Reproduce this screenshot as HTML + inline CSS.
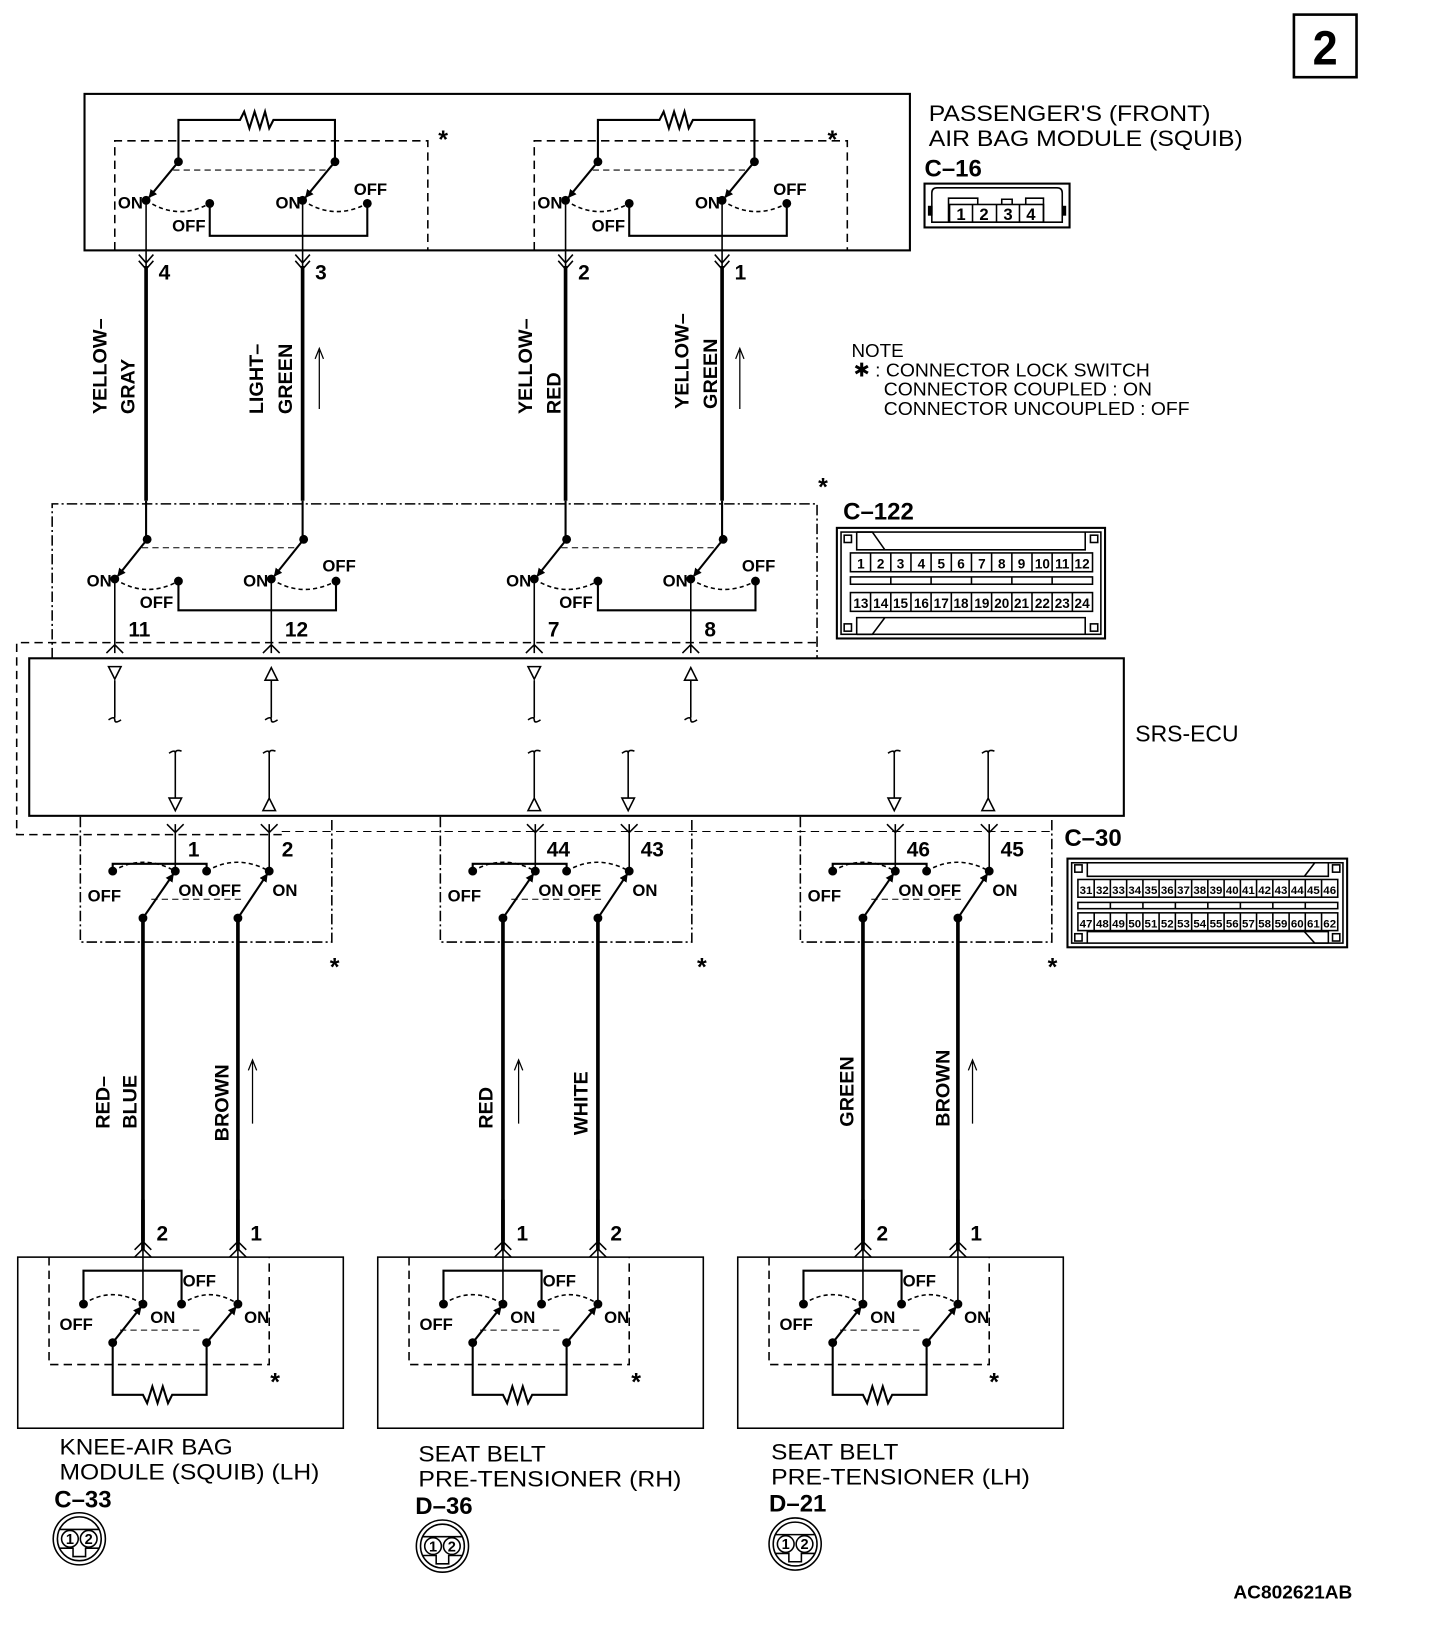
<!DOCTYPE html>
<html><head><meta charset="utf-8"><style>
html,body{margin:0;padding:0;background:#fff}
svg{display:block}
.b{font-family:"Liberation Sans Narrow","Liberation Sans",sans-serif;font-weight:bold;font-size:20px;fill:#000}
.s{font-family:"Liberation Sans Narrow","Liberation Sans",sans-serif;font-weight:bold;font-size:16px;fill:#000}
.n{font-family:"Liberation Sans",sans-serif;font-size:21px;fill:#000}
.w{font-family:"Liberation Sans",sans-serif;font-weight:bold;font-size:19px;fill:#000}
.c{font-family:"Liberation Sans Narrow","Liberation Sans",sans-serif;font-weight:bold;font-size:13px;fill:#000}
</style></head><body>
<svg width="1440" height="1640" viewBox="0 0 1380 1572" preserveAspectRatio="none" xmlns="http://www.w3.org/2000/svg" fill="none" stroke="#000" stroke-width="1.5">
<defs>
<marker id="ar" markerWidth="8" markerHeight="8" refX="7" refY="4" orient="auto" markerUnits="userSpaceOnUse"><path d="M0,0 L8,4 L0,8 z" fill="#000" stroke="none"/></marker>
<g id="topHalf">
<path d="M-30,240 V135 H270 V240" stroke-dasharray="8,5"/>
<path d="M31,155 V115 H90 L94,107 L99,123 L104,107 L109,123 L114,107 L118,123 L122,115 H181 V155" stroke-width="2"/>
<circle cx="31" cy="155" r="3.5" fill="#000"/><circle cx="181" cy="155" r="3.5" fill="#000"/>
<line x1="31" y1="155" x2="3" y2="189" stroke-width="2" marker-end="url(#ar)"/>
<line x1="181" y1="155" x2="153" y2="189" stroke-width="2" marker-end="url(#ar)"/>
<circle cx="0" cy="192" r="3.5" fill="#000"/><circle cx="150" cy="192" r="3.5" fill="#000"/>
<circle cx="61" cy="195" r="3.5" fill="#000"/><circle cx="212" cy="195" r="3.5" fill="#000"/>
<path d="M0,192 Q30,212 61,195 M150,192 Q180,212 212,195" stroke-dasharray="4,3"/>
<path d="M61,195 V226 H212 V195" stroke-width="2"/>
<path d="M26,163 H176" stroke-dasharray="6,4" stroke-width="1"/>
<path d="M0,192 V255 M150,192 V255"/>
<path d="M-7,244 L0,252 L7,244 M-7,250 L0,258 L7,250 M143,244 L150,252 L157,244 M143,250 L150,258 L157,250"/>
<path d="M0,255 V480 M150,255 V480" stroke-width="3.5"/>
</g>
<g id="c122Half">
<path d="M30,480 V517 M180,480 V517" stroke-width="2"/>
<circle cx="31" cy="517" r="3.5" fill="#000"/><circle cx="181" cy="517" r="3.5" fill="#000"/>
<line x1="31" y1="517" x2="3" y2="552" stroke-width="2" marker-end="url(#ar)"/>
<line x1="181" y1="517" x2="153" y2="552" stroke-width="2" marker-end="url(#ar)"/>
<circle cx="0" cy="555" r="3.5" fill="#000"/><circle cx="150" cy="555" r="3.5" fill="#000"/>
<circle cx="61" cy="557" r="3.5" fill="#000"/><circle cx="212" cy="557" r="3.5" fill="#000"/>
<path d="M0,555 Q30,574 61,557 M150,555 Q180,574 212,557" stroke-dasharray="4,3"/>
<path d="M61,557 V585 H212 V557" stroke-width="2"/>
<path d="M26,525 H176" stroke-dasharray="6,4" stroke-width="1"/>
<path d="M0,555 V626 M150,555 V626"/>
<path d="M-8,626 L0,618 L8,626 M142,626 L150,618 L158,626"/>
</g>
<g id="c30">
<path d="M-60,783 V903 H181 V783" stroke-dasharray="10,3,2,3"/>
<path d="M31,790 V835 M121,790 V835"/>
<path d="M23,790 L31,798 L39,790 M113,790 L121,798 L129,790"/>
<circle cx="31" cy="835" r="3.5" fill="#000"/><circle cx="121" cy="835" r="3.5" fill="#000"/>
<circle cx="-29" cy="835" r="3.5" fill="#000"/><circle cx="61" cy="835" r="3.5" fill="#000"/>
<circle cx="0" cy="880" r="3.5" fill="#000"/><circle cx="91" cy="880" r="3.5" fill="#000"/>
<line x1="0" y1="880" x2="29" y2="838" stroke-width="2" marker-end="url(#ar)"/>
<line x1="91" y1="880" x2="119" y2="838" stroke-width="2" marker-end="url(#ar)"/>
<path d="M-29,835 Q0,818 31,835 M61,835 Q90,818 121,835" stroke-dasharray="4,3"/>
<path d="M-29,835 V828 H61 V835" stroke-width="2"/>
<path d="M8,862 H98" stroke-dasharray="6,4" stroke-width="1"/>
<path d="M0,880 V1190 M91,880 V1190" stroke-width="3.5"/>
</g>
<g id="bot">
<rect x="-120" y="1205" width="312" height="164"/>
<path d="M-90,1205 V1308 H121 V1205" stroke-dasharray="8,5"/>
<path d="M0,1150 V1198 M91,1150 V1198" stroke-width="3.5"/>
<path d="M0,1190 V1250 M91,1190 V1250"/>
<path d="M-8,1198 L0,1190 L8,1198 M-8,1205 L0,1197 L8,1205 M83,1198 L91,1190 L99,1198 M83,1205 L91,1197 L99,1205"/>
<circle cx="0" cy="1250" r="3.5" fill="#000"/><circle cx="91" cy="1250" r="3.5" fill="#000"/>
<circle cx="-57" cy="1250" r="3.5" fill="#000"/><circle cx="37" cy="1250" r="3.5" fill="#000"/>
<circle cx="-29" cy="1287" r="3.5" fill="#000"/><circle cx="61" cy="1287" r="3.5" fill="#000"/>
<line x1="-29" y1="1287" x2="-2" y2="1253" stroke-width="2" marker-end="url(#ar)"/>
<line x1="61" y1="1287" x2="89" y2="1253" stroke-width="2" marker-end="url(#ar)"/>
<path d="M-57,1250 Q-30,1232 0,1250 M37,1250 Q64,1232 91,1250" stroke-dasharray="4,3"/>
<path d="M-57,1250 V1218 H37 V1250" stroke-width="2"/>
<path d="M-22,1275 H56" stroke-dasharray="6,4" stroke-width="1"/>
<path d="M-29,1287 V1337 H0 L4,1345 L9,1329 L14,1345 L19,1329 L24,1345 L28,1337 H61 V1287" stroke-width="2"/>
</g>
</defs>

<rect x="1240" y="14" width="60" height="60" stroke-width="2.5"/>
<text class="b" x="1270" y="62" text-anchor="middle" style="font-size:46px" stroke="none" textLength="24" lengthAdjust="spacingAndGlyphs">2</text>

<rect x="81" y="90" width="791" height="150" stroke-width="2"/>
<use href="#topHalf" x="140" y="0"/>
<use href="#topHalf" x="542" y="0"/>
<g stroke="none">
<text class="s" x="113" y="200">ON</text><text class="s" x="165" y="222">OFF</text>
<text class="s" x="264" y="200">ON</text><text class="s" x="339" y="187">OFF</text>
<text class="s" x="515" y="200">ON</text><text class="s" x="567" y="222">OFF</text>
<text class="s" x="666" y="200">ON</text><text class="s" x="741" y="187">OFF</text>
<text class="b" x="420" y="142" style="font-size:24px">*</text><text class="b" x="793" y="142" style="font-size:24px">*</text>
<text class="b" x="152" y="268">4</text><text class="b" x="302" y="268">3</text>
<text class="b" x="554" y="268">2</text><text class="b" x="704" y="268">1</text>
<text class="n" x="890" y="116" textLength="270" lengthAdjust="spacingAndGlyphs">PASSENGER'S (FRONT)</text>
<text class="n" x="890" y="140" textLength="301" lengthAdjust="spacingAndGlyphs">AIR BAG MODULE (SQUIB)</text>
<text class="b" x="886" y="169" style="font-size:23px">C–16</text>
</g>
<rect x="886" y="176" width="139" height="42" stroke-width="2"/>
<path d="M893,185 Q893,180 898,180 H1013 Q1018,180 1018,185 V213 H893 Z"/>
<path d="M909,213 V190 H937 V196 M960,196 V191 H970 V196 M983,196 V190 H1000 V213"/>
<rect x="910" y="196" width="90" height="17"/>
<path d="M932,196 V213 M955,196 V213 M977,196 V213"/>
<g stroke="none"><text class="c" x="921" y="211" text-anchor="middle" style="font-size:16px">1</text><text class="c" x="943" y="211" text-anchor="middle" style="font-size:16px">2</text><text class="c" x="966" y="211" text-anchor="middle" style="font-size:16px">3</text><text class="c" x="988" y="211" text-anchor="middle" style="font-size:16px">4</text></g>
<rect x="890" y="198" width="3" height="8" fill="#000"/><rect x="1018" y="198" width="3" height="8" fill="#000"/>

<g stroke="none">
<text class="w" transform="translate(102,397) rotate(-90)">YELLOW–</text>
<text class="w" transform="translate(129,397) rotate(-90)">GRAY</text>
<text class="w" transform="translate(252,397) rotate(-90)">LIGHT–</text>
<text class="w" transform="translate(280,397) rotate(-90)">GREEN</text>
<text class="w" transform="translate(510,397) rotate(-90)">YELLOW–</text>
<text class="w" transform="translate(537,397) rotate(-90)">RED</text>
<text class="w" transform="translate(660,392) rotate(-90)">YELLOW–</text>
<text class="w" transform="translate(687,392) rotate(-90)">GREEN</text>
</g>
<path d="M306,392 V336 M302,344 L306,334 L310,344" stroke-width="1.2"/>
<path d="M709,392 V336 M705,344 L709,334 L713,344" stroke-width="1.2"/>

<g stroke="none">
<text class="n" x="816" y="342" style="font-size:18px">NOTE</text>
<text class="n" x="818" y="361" style="font-size:18px" textLength="284" lengthAdjust="spacingAndGlyphs">✱ : CONNECTOR LOCK SWITCH</text>
<text class="n" x="847" y="379" style="font-size:18px" textLength="257" lengthAdjust="spacingAndGlyphs">CONNECTOR COUPLED : ON</text>
<text class="n" x="847" y="398" style="font-size:18px" textLength="293" lengthAdjust="spacingAndGlyphs">CONNECTOR UNCOUPLED : OFF</text>
</g>

<path d="M50,631 V483 H783 V631" stroke-dasharray="10,3,2,3"/>
<use href="#c122Half" x="110" y="0"/>
<use href="#c122Half" x="512" y="0"/>
<g stroke="none">
<text class="s" x="83" y="562">ON</text><text class="s" x="134" y="583">OFF</text>
<text class="s" x="233" y="562">ON</text><text class="s" x="309" y="548">OFF</text>
<text class="s" x="485" y="562">ON</text><text class="s" x="536" y="583">OFF</text>
<text class="s" x="635" y="562">ON</text><text class="s" x="711" y="548">OFF</text>
<text class="b" x="123" y="610">11</text><text class="b" x="273" y="610">12</text>
<text class="b" x="525" y="610">7</text><text class="b" x="675" y="610">8</text>
<text class="b" x="784" y="475" style="font-size:24px">*</text>
<text class="b" x="808" y="498" style="font-size:23px">C–122</text>
</g>
<rect x="802" y="506" width="257" height="106" stroke-width="2"/>
<rect x="806" y="510" width="249" height="98"/>
<rect x="809" y="513" width="7" height="7"/><rect x="1045" y="513" width="7" height="7"/>
<rect x="809" y="598" width="7" height="7"/><rect x="1045" y="598" width="7" height="7"/>
<path d="M821,510 V527 H1040 V510 M821,510 H836 L848,527"/>
<path d="M821,608 V592 H1040 V608 M821,608 H836 L848,592"/>
<rect x="815" y="530" width="232" height="18"/>
<rect x="815" y="553" width="232" height="7"/>
<rect x="815" y="568" width="232" height="18"/>
<path d="M834.3,530 V548 M853.7,530 V548 M873,530 V548 M892.3,530 V548 M911.7,530 V548 M931,530 V548 M950.3,530 V548 M969.7,530 V548 M989,530 V548 M1008.3,530 V548 M1027.7,530 V548
M834.3,568 V586 M853.7,568 V586 M873,568 V586 M892.3,568 V586 M911.7,568 V586 M931,568 V586 M950.3,568 V586 M969.7,568 V586 M989,568 V586 M1008.3,568 V586 M1027.7,568 V586
M853.7,553 V560 M892.3,553 V560 M931,553 V560 M969.7,553 V560 M1008.3,553 V560"/>
<g stroke="none">
<text x="825" y="545" text-anchor="middle" class="c">1</text><text x="844" y="545" text-anchor="middle" class="c">2</text><text x="863" y="545" text-anchor="middle" class="c">3</text><text x="883" y="545" text-anchor="middle" class="c">4</text><text x="902" y="545" text-anchor="middle" class="c">5</text><text x="921" y="545" text-anchor="middle" class="c">6</text><text x="941" y="545" text-anchor="middle" class="c">7</text><text x="960" y="545" text-anchor="middle" class="c">8</text><text x="979" y="545" text-anchor="middle" class="c">9</text><text x="999" y="545" text-anchor="middle" class="c">10</text><text x="1018" y="545" text-anchor="middle" class="c">11</text><text x="1037" y="545" text-anchor="middle" class="c">12</text>
<text x="825" y="583" text-anchor="middle" class="c">13</text><text x="844" y="583" text-anchor="middle" class="c">14</text><text x="863" y="583" text-anchor="middle" class="c">15</text><text x="883" y="583" text-anchor="middle" class="c">16</text><text x="902" y="583" text-anchor="middle" class="c">17</text><text x="921" y="583" text-anchor="middle" class="c">18</text><text x="941" y="583" text-anchor="middle" class="c">19</text><text x="960" y="583" text-anchor="middle" class="c">20</text><text x="979" y="583" text-anchor="middle" class="c">21</text><text x="999" y="583" text-anchor="middle" class="c">22</text><text x="1018" y="583" text-anchor="middle" class="c">23</text><text x="1037" y="583" text-anchor="middle" class="c">24</text>
</g>

<path d="M270,800 H16 V616 H783" stroke-dasharray="8,5"/>
<path d="M270,797 H1008" stroke-dasharray="8,5" stroke-width="1"/>

<rect x="28" y="631" width="1049" height="151" stroke-width="2"/>
<text class="n" x="1088" y="711" stroke="none" style="font-size:22px">SRS-ECU</text>
<g stroke-width="1.5">
<path d="M110,652 V688 M104,690 Q110,686 110,690 Q110,694 116,690"/>
<path d="M104,639 H116 L110,651 Z"/>
<path d="M260,652 V688 M254,690 Q260,686 260,690 Q260,694 266,690"/>
<path d="M254,652 H266 L260,640 Z"/>
<path d="M512,652 V688 M506,690 Q512,686 512,690 Q512,694 518,690"/>
<path d="M506,639 H518 L512,651 Z"/>
<path d="M662,652 V688 M656,690 Q662,686 662,690 Q662,694 668,690"/>
<path d="M656,652 H668 L662,640 Z"/>
</g>
<g stroke-width="1.5">
<path d="M162,722 Q168,718 168,722 Q168,718 174,720 M168,722 V765 M162,765 H174 L168,777 Z"/>
<path d="M252,722 Q258,718 258,722 Q258,718 264,720 M258,722 V765 M252,777 H264 L258,765 Z"/>
<path d="M506,722 Q512,718 512,722 Q512,718 518,720 M512,722 V765 M506,777 H518 L512,765 Z"/>
<path d="M596,722 Q602,718 602,722 Q602,718 608,720 M602,722 V765 M596,765 H608 L602,777 Z"/>
<path d="M851,722 Q857,718 857,722 Q857,718 863,720 M857,722 V765 M851,765 H863 L857,777 Z"/>
<path d="M941,722 Q947,718 947,722 Q947,718 953,720 M947,722 V765 M941,777 H953 L947,765 Z"/>
</g>

<use href="#c30" x="137" y="0"/>
<use href="#c30" x="482" y="0"/>
<use href="#c30" x="827" y="0"/>
<g stroke="none">
<text class="b" x="180" y="821">1</text><text class="b" x="270" y="821">2</text>
<text class="b" x="524" y="821">44</text><text class="b" x="614" y="821">43</text>
<text class="b" x="869" y="821">46</text><text class="b" x="959" y="821">45</text>
<text class="s" x="84" y="864">OFF</text><text class="s" x="171" y="859">ON</text><text class="s" x="199" y="859">OFF</text><text class="s" x="261" y="859">ON</text>
<text class="s" x="429" y="864">OFF</text><text class="s" x="516" y="859">ON</text><text class="s" x="544" y="859">OFF</text><text class="s" x="606" y="859">ON</text>
<text class="s" x="774" y="864">OFF</text><text class="s" x="861" y="859">ON</text><text class="s" x="889" y="859">OFF</text><text class="s" x="951" y="859">ON</text>
<text class="b" x="316" y="935" style="font-size:24px">*</text><text class="b" x="668" y="935" style="font-size:24px">*</text><text class="b" x="1004" y="935" style="font-size:24px">*</text>
<text class="b" x="1020" y="811" style="font-size:23px">C–30</text>
</g>
<rect x="1023" y="823" width="268" height="85" stroke-width="2"/>
<rect x="1027" y="827" width="260" height="77"/>
<rect x="1030" y="829" width="7" height="7"/><rect x="1277" y="829" width="7" height="7"/>
<rect x="1030" y="895" width="7" height="7"/><rect x="1277" y="895" width="7" height="7"/>
<path d="M1042,827 V840 H1273 V827 M1273,827 H1260 L1250,840"/>
<path d="M1042,904 V893 H1273 V904 M1273,904 H1260 L1250,893"/>
<rect x="1033" y="843" width="249" height="17"/>
<rect x="1033" y="865" width="249" height="6"/>
<rect x="1033" y="875" width="249" height="17"/>
<path d="M1048.6,843 V860 M1064.1,843 V860 M1079.7,843 V860 M1095.3,843 V860 M1110.8,843 V860 M1126.4,843 V860 M1142,843 V860 M1157.5,843 V860 M1173.1,843 V860 M1188.7,843 V860 M1204.2,843 V860 M1219.8,843 V860 M1235.4,843 V860 M1250.9,843 V860 M1266.5,843 V860
M1048.6,875 V892 M1064.1,875 V892 M1079.7,875 V892 M1095.3,875 V892 M1110.8,875 V892 M1126.4,875 V892 M1142,875 V892 M1157.5,875 V892 M1173.1,875 V892 M1188.7,875 V892 M1204.2,875 V892 M1219.8,875 V892 M1235.4,875 V892 M1250.9,875 V892 M1266.5,875 V892
M1064.1,865 V871 M1095.3,865 V871 M1126.4,865 V871 M1157.5,865 V871 M1188.7,865 V871 M1219.8,865 V871 M1250.9,865 V871"/>
<g stroke="none" style="font-size:11px">
<text x="1040.8" y="857" text-anchor="middle" class="c" style="font-size:11px">31</text><text x="1056.4" y="857" text-anchor="middle" class="c" style="font-size:11px">32</text><text x="1071.9" y="857" text-anchor="middle" class="c" style="font-size:11px">33</text><text x="1087.5" y="857" text-anchor="middle" class="c" style="font-size:11px">34</text><text x="1103" y="857" text-anchor="middle" class="c" style="font-size:11px">35</text><text x="1118.6" y="857" text-anchor="middle" class="c" style="font-size:11px">36</text><text x="1134.2" y="857" text-anchor="middle" class="c" style="font-size:11px">37</text><text x="1149.8" y="857" text-anchor="middle" class="c" style="font-size:11px">38</text><text x="1165.3" y="857" text-anchor="middle" class="c" style="font-size:11px">39</text><text x="1180.9" y="857" text-anchor="middle" class="c" style="font-size:11px">40</text><text x="1196.4" y="857" text-anchor="middle" class="c" style="font-size:11px">41</text><text x="1212" y="857" text-anchor="middle" class="c" style="font-size:11px">42</text><text x="1227.6" y="857" text-anchor="middle" class="c" style="font-size:11px">43</text><text x="1243.2" y="857" text-anchor="middle" class="c" style="font-size:11px">44</text><text x="1258.7" y="857" text-anchor="middle" class="c" style="font-size:11px">45</text><text x="1274.3" y="857" text-anchor="middle" class="c" style="font-size:11px">46</text>
<text x="1040.8" y="889" text-anchor="middle" class="c" style="font-size:11px">47</text><text x="1056.4" y="889" text-anchor="middle" class="c" style="font-size:11px">48</text><text x="1071.9" y="889" text-anchor="middle" class="c" style="font-size:11px">49</text><text x="1087.5" y="889" text-anchor="middle" class="c" style="font-size:11px">50</text><text x="1103" y="889" text-anchor="middle" class="c" style="font-size:11px">51</text><text x="1118.6" y="889" text-anchor="middle" class="c" style="font-size:11px">52</text><text x="1134.2" y="889" text-anchor="middle" class="c" style="font-size:11px">53</text><text x="1149.8" y="889" text-anchor="middle" class="c" style="font-size:11px">54</text><text x="1165.3" y="889" text-anchor="middle" class="c" style="font-size:11px">55</text><text x="1180.9" y="889" text-anchor="middle" class="c" style="font-size:11px">56</text><text x="1196.4" y="889" text-anchor="middle" class="c" style="font-size:11px">57</text><text x="1212" y="889" text-anchor="middle" class="c" style="font-size:11px">58</text><text x="1227.6" y="889" text-anchor="middle" class="c" style="font-size:11px">59</text><text x="1243.2" y="889" text-anchor="middle" class="c" style="font-size:11px">60</text><text x="1258.7" y="889" text-anchor="middle" class="c" style="font-size:11px">61</text><text x="1274.3" y="889" text-anchor="middle" class="c" style="font-size:11px">62</text>
</g>

<g stroke="none">
<text class="w" transform="translate(105,1082) rotate(-90)">RED–</text>
<text class="w" transform="translate(131,1082) rotate(-90)">BLUE</text>
<text class="w" transform="translate(219,1094) rotate(-90)">BROWN</text>
<text class="w" transform="translate(472,1082) rotate(-90)">RED</text>
<text class="w" transform="translate(563,1088) rotate(-90)">WHITE</text>
<text class="w" transform="translate(818,1080) rotate(-90)">GREEN</text>
<text class="w" transform="translate(910,1080) rotate(-90)">BROWN</text>
</g>
<path d="M242,1077 V1018 M238,1026 L242,1016 L246,1026" stroke-width="1.2"/>
<path d="M497,1077 V1018 M493,1026 L497,1016 L501,1026" stroke-width="1.2"/>
<path d="M932,1077 V1018 M928,1026 L932,1016 L936,1026" stroke-width="1.2"/>

<use href="#bot" x="137" y="0"/>
<use href="#bot" x="482" y="0"/>
<use href="#bot" x="827" y="0"/>
<g stroke="none">
<text class="b" x="150" y="1189">2</text><text class="b" x="240" y="1189">1</text>
<text class="b" x="495" y="1189">1</text><text class="b" x="585" y="1189">2</text>
<text class="b" x="840" y="1189">2</text><text class="b" x="930" y="1189">1</text>
<text class="s" x="57" y="1275">OFF</text><text class="s" x="144" y="1268">ON</text><text class="s" x="175" y="1233">OFF</text><text class="s" x="234" y="1268">ON</text>
<text class="s" x="402" y="1275">OFF</text><text class="s" x="489" y="1268">ON</text><text class="s" x="520" y="1233">OFF</text><text class="s" x="579" y="1268">ON</text>
<text class="s" x="747" y="1275">OFF</text><text class="s" x="834" y="1268">ON</text><text class="s" x="865" y="1233">OFF</text><text class="s" x="924" y="1268">ON</text>
<text class="b" x="259" y="1333" style="font-size:24px">*</text><text class="b" x="605" y="1333" style="font-size:24px">*</text><text class="b" x="948" y="1333" style="font-size:24px">*</text>
<text class="n" x="57" y="1394" textLength="166" lengthAdjust="spacingAndGlyphs">KNEE-AIR BAG</text>
<text class="n" x="57" y="1418" textLength="249" lengthAdjust="spacingAndGlyphs">MODULE (SQUIB) (LH)</text>
<text class="b" x="52" y="1445" style="font-size:23px">C–33</text>
<text class="n" x="401" y="1401" textLength="122" lengthAdjust="spacingAndGlyphs">SEAT BELT</text>
<text class="n" x="401" y="1425" textLength="252" lengthAdjust="spacingAndGlyphs">PRE-TENSIONER (RH)</text>
<text class="b" x="398" y="1451" style="font-size:23px">D–36</text>
<text class="n" x="739" y="1399" textLength="122" lengthAdjust="spacingAndGlyphs">SEAT BELT</text>
<text class="n" x="739" y="1423" textLength="248" lengthAdjust="spacingAndGlyphs">PRE-TENSIONER (LH)</text>
<text class="b" x="737" y="1449" style="font-size:23px">D–21</text>
<text class="b" x="1182" y="1532" style="font-size:18px" textLength="114" lengthAdjust="spacingAndGlyphs">AC802621AB</text>
</g>
<g id="rc">
<circle cx="76" cy="1475" r="25" stroke-width="1.5"/>
<circle cx="76" cy="1475" r="21"/>
<path d="M57,1466 H95 M57,1484 H70 V1492 H82 V1484 H95"/>
<circle cx="67" cy="1475" r="8"/><circle cx="85" cy="1475" r="8"/>
<text class="c" x="67" y="1480" text-anchor="middle" stroke="none" style="font-size:14px">1</text>
<text class="c" x="85" y="1480" text-anchor="middle" stroke="none" style="font-size:14px">2</text>
</g>
<use href="#rc" x="348" y="7"/>
<use href="#rc" x="686" y="5"/>
</svg>
</body></html>
